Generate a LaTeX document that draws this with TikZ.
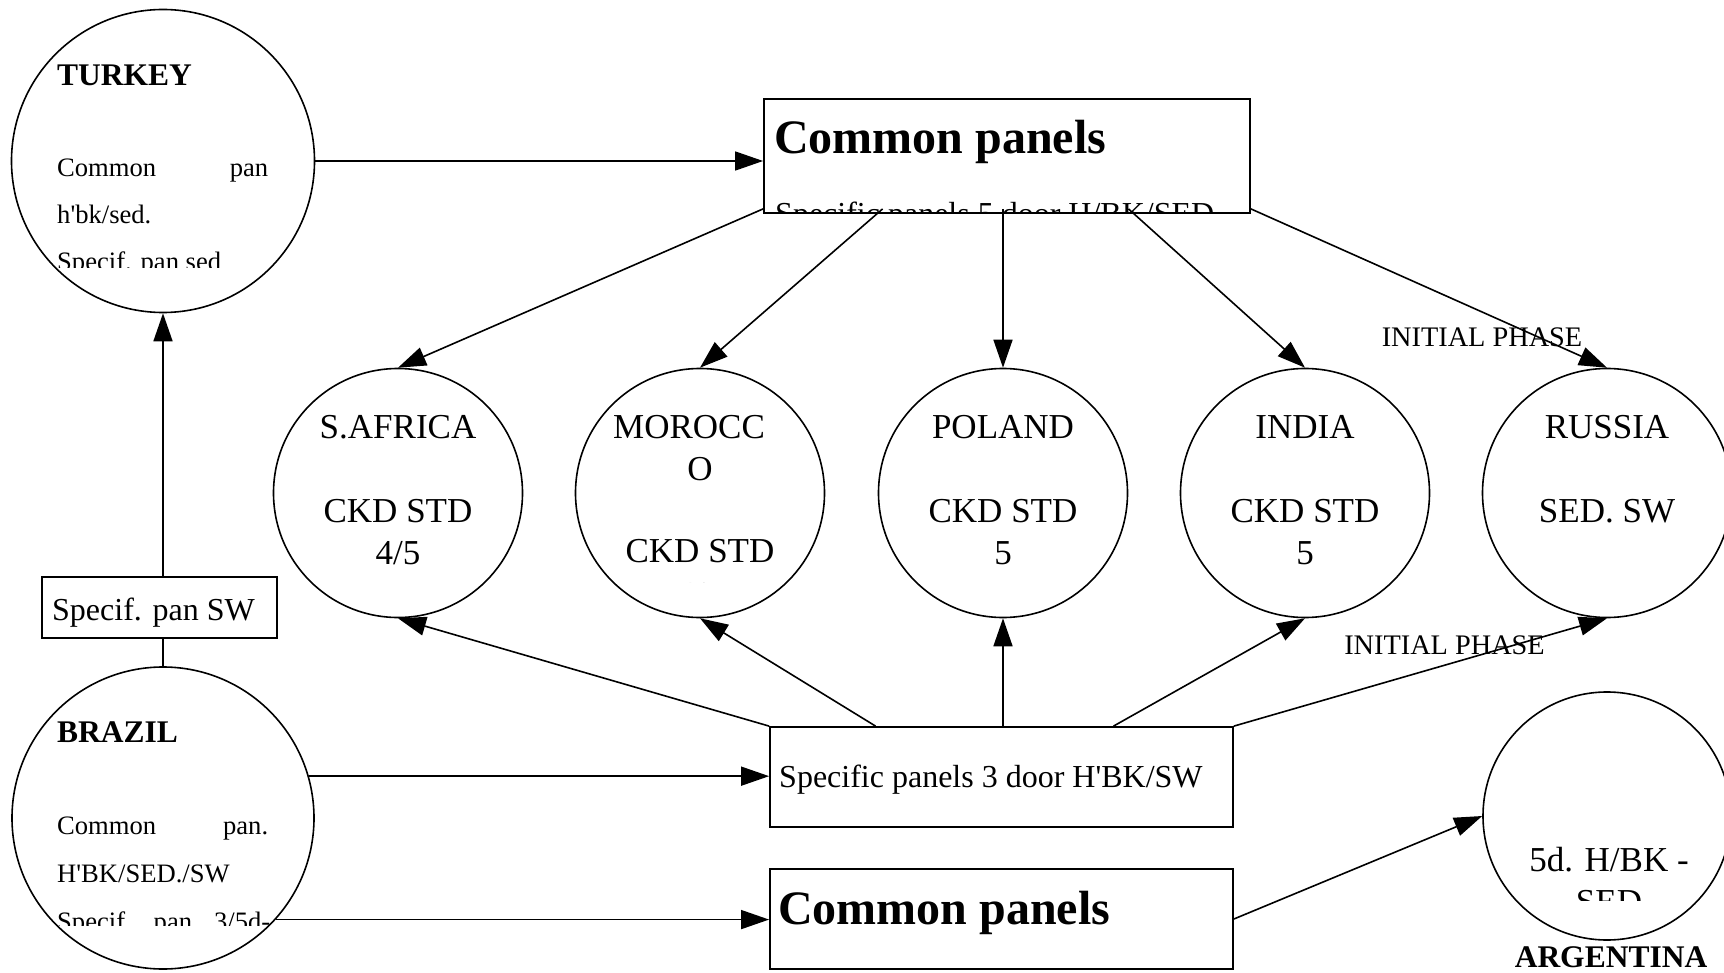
\documentclass[tikz,border=0pt]{standalone}
\usepackage{fontspec}
\setmainfont{Liberation Serif}[Ligatures=TeXOff]
\usetikzlibrary{arrows.meta,calc}
\begin{document}
\begin{tikzpicture}[x=1pt,y=-1pt,
  bigc/.style={draw, circle, line width=1.6pt, minimum size=303pt, inner sep=0pt},
  country/.style={draw, circle, line width=1.6pt, minimum size=249pt, inner sep=0pt},
  panelbox/.style={draw, rectangle, line width=1.8pt, inner sep=0pt},
  arr/.style={line width=1.6pt, -{Triangle[length=28pt,width=19pt]}},
  con/.style={line width=1.6pt},
  ctext/.style={font=\fontsize{35}{42}\selectfont, anchor=base, inner sep=0pt},
  stext/.style={font=\fontsize{26.6}{32}\selectfont, anchor=base west, inner sep=0pt},
  btext/.style={font=\bfseries\fontsize{31.5}{38}\selectfont, inner sep=0pt},
  hugetext/.style={font=\bfseries\fontsize{48}{56}\selectfont, anchor=base west, inner sep=0pt},
  mtext/.style={font=\fontsize{32}{38}\selectfont, anchor=base west, inner sep=0pt},
  phase/.style={font=\fontsize{28.3}{34}\selectfont, anchor=base, inner sep=0pt}
]
\clip (0,0) rectangle (1724,973);
\fill[white] (0,0) rectangle (1724,973);

% shapes
\node[bigc] (turkey) at (163,161) {};
\node[bigc, minimum size=302pt] (brazil) at (163,818) {};
\node[country] (safrica) at (398,493) {};
\node[country] (morocco) at (700,493) {};
\node[country] (poland) at (1003,493) {};
\node[country] (india) at (1305,493) {};
\node[country] (russia) at (1607,493) {};
\node[country, minimum size=248pt] (argentina) at (1607,816) {};
\node[panelbox, minimum width=486pt, minimum height=114pt] (cp1) at (1007,156) {};
\node[panelbox, minimum width=463pt, minimum height=100pt] (spec3) at (1001.5,777) {};
\node[panelbox, minimum width=463pt, minimum height=100pt] (cp2) at (1001.5,919) {};
\node[panelbox, minimum width=235pt, minimum height=61pt] (specsw) at (159.5,607.5) {};

% Turkey text
\begin{scope}
\clip (56,54) rectangle (270,268);
\node[btext, anchor=base west] (tk1) at (57,85.5) {TURKEY};
\node[stext] (tk2) at (57,177) {\makebox[211pt][s]{Common\hfill pan}};
\node[stext] (tk3) at (57,224) {h'bk/sed.};
\node[stext] (tk4) at (57,271) {Specif. pan sed};
\end{scope}

% Brazil text
\begin{scope}
\clip (56,711) rectangle (270,925);
\node[btext, anchor=base west] (br1) at (57,742) {BRAZIL};
\node[stext] (br2) at (57,834) {\makebox[211pt][s]{Common\hfill pan.}};
\node[stext] (br3) at (57,882) {H'BK/SED./SW};
\node[stext] (br4) at (57,930) {\makebox[213pt][s]{Specif.\hfill pan\hfill 3/5d-}};
\end{scope}

% top box text
\node[hugetext] (cp1a) at (774,154) {Common panels};
\begin{scope}
\clip (764,99) rectangle (1250,213);
\node[mtext] (cp1b) at (775,225) {Specific panels 5 door H/BK/SED};
\end{scope}

\node[mtext] (spec3t) at (779,787) {Specific panels 3 door H'BK/SW};
\node[hugetext] (cp2t) at (778,924) {Common panels};
\node[mtext] (specswt) at (52,620) {Specif. pan SW};

% country texts
\node[ctext] (sa1) at (398,438) {S.AFRICA};
\node[ctext] (sa2) at (398,522) {CKD STD};
\node[ctext] (sa3) at (398,564) {4/5};

\begin{scope}
\clip (612,405) rectangle (788,582);
\node[ctext, anchor=base west] (mo1) at (613,438) {MOROCC};
\node[ctext] (mo2) at (700,480) {O};
\node[ctext] (mo3) at (700,562) {CKD STD};
\node[ctext] (mo4) at (700,606) {4/5};
\end{scope}

\node[ctext] (po1) at (1003,438) {POLAND};
\node[ctext] (po2) at (1003,522) {CKD STD};
\node[ctext] (po3) at (1003,564) {5};

\node[ctext] (in1) at (1305,438) {INDIA};
\node[ctext] (in2) at (1305,522) {CKD STD};
\node[ctext] (in3) at (1305,564) {5};

\node[ctext] (ru1) at (1607,438) {RUSSIA};
\node[ctext] (ru2) at (1607,522) {SED. SW};

\begin{scope}
\clip (1519,728) rectangle (1695,900);
\node[ctext] (ar1) at (1609,871) {5d. H/BK -};
\node[ctext] (ar2) at (1609,913) {SED};
\end{scope}
\node[btext, anchor=base] (ar3) at (1611,967) {ARGENTINA};

\node[phase] (ph1) at (1482,347) {INITIAL PHASE};
\node[phase] (ph2) at (1444.5,654) {INITIAL PHASE};

% connectors
\draw[arr] (turkey.east) -- (turkey.east -| cp1.west);
\draw[arr] ($(cp1.south west)+(0,-5)$) -- (safrica.north);
\draw[arr] ($(cp1.south west)!0.245!(cp1.south east)+(0,-5)$) -- (morocco.north);
\draw[arr] ($(poland.north |- cp1.south)+(0,-5)$) -- (poland.north);
\draw[arr] ($(cp1.south west)!0.749!(cp1.south east)+(0,-5)$) -- (india.north);
\draw[arr] ($(cp1.south east)+(0,-5)$) -- (russia.north);

\draw[arr] (spec3.north west) -- (safrica.south);
\draw[arr] ($(spec3.north west)!0.229!(spec3.north east)$) -- (morocco.south);
\draw[arr] (poland.south |- spec3.north) -- (poland.south);
\draw[arr] ($(spec3.north west)!0.741!(spec3.north east)$) -- (india.south);
\draw[arr] (spec3.north east) -- (russia.south);

\draw[arr] (brazil.16.5) -- (brazil.16.5 -| spec3.west);
\draw[arr] (brazil.-42) -- (brazil.-42 -| cp2.west);
\draw[con] (brazil.north) -- (brazil.north |- specsw.south);
\draw[arr] (specsw.north -| turkey.south) -- (turkey.south);
\draw[arr] (cp2.east) -- (argentina.west);
\end{tikzpicture}
\end{document}
